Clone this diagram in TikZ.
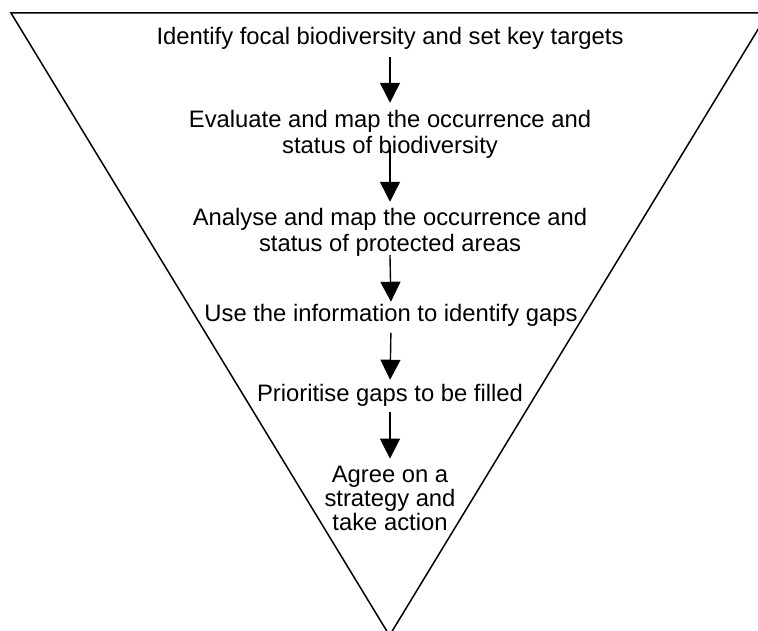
\documentclass[tikz,border=0pt]{standalone}
\usepackage{fontspec}
\setmainfont{Liberation Sans}
\usetikzlibrary{arrows.meta}
\newcommand\mystepfont{\fontsize{23.8}{26.5}\selectfont\lineskiplimit=-20pt\relax}
\newcommand\mytightfont{\fontsize{23.8}{24}\selectfont\lineskiplimit=-20pt\relax}
\begin{document}
\begin{tikzpicture}[x=1pt,y=-1pt,
  steptext/.style={inner sep=0pt,outer sep=0pt,align=center,anchor=base,
    font=\mystepfont},
  tightlines/.style={font=\mytightfont},
  flowarrow/.style={line width=1.4pt,-{Triangle[width=20pt,length=20pt]}},
  funnel/.style={line width=1.5pt,line join=miter}]
\useasboundingbox (0,0) rectangle (758,631);
\begin{scope}
\clip (0,0) rectangle (758,631);
\draw[funnel] (11,13) -- (768,13) -- (389.5,635.5) -- cycle;
\end{scope}
% base anchor of a multi-line node = baseline of its last line
\node[steptext] (s1) at (390,45) {Identify focal biodiversity and set key targets};
\node[steptext] (s2) at (390,154) {Evaluate and map the occurrence and\\status of biodiversity};
\node[steptext] (s3) at (390,252) {Analyse and map the occurrence and\\status of protected areas};
\node[steptext] (s4) at (391,321.5) {Use the information to identify gaps};
\node[steptext] (s5) at (390,401.5) {Prioritise gaps to be filled};
\node[steptext,tightlines] (s6) at (390,530) {Agree on a\\strategy and\\take action};
\draw[flowarrow,shorten <=7pt,shorten >=7.5pt] (s1.south) -- (s2.north);
\draw[flowarrow,shorten <=-14pt,shorten >=6.5pt] (s2.south) -- (s3.north);
\draw[flowarrow,shorten <=-2pt,shorten >=2.5pt] (s3.south) -- (s4.north);
\draw[flowarrow,shorten <=6.5pt,shorten >=4.5pt] (s4.south) -- (s5.north);
\draw[flowarrow,shorten <=5.5pt,shorten >=7pt] (s5.south) -- (s6.north);
\end{tikzpicture}
\end{document}
